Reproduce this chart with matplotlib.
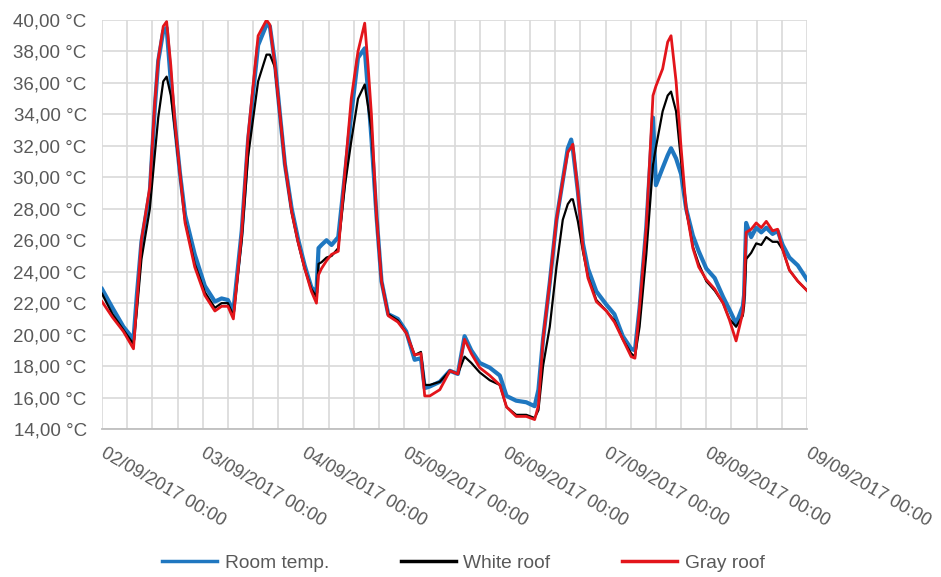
import numpy as np
import pandas as pd
import matplotlib
matplotlib.use("Agg")
import matplotlib.pyplot as plt
import matplotlib.dates as mdates
from matplotlib.ticker import FuncFormatter, MultipleLocator
from matplotlib.transforms import ScaledTranslation

plt.rcParams['font.family'] = ['Liberation Sans', 'DejaVu Sans']

# ---------- data (hours since 02/09/2017 00:00) ----------
hours = [0, 2.5, 5.1, 7.5, 8.3, 9.4, 11.4, 12.6, 13.4, 14.6, 15.4, 16.4, 17.4, 18.6,
         19.8, 22.1, 24.5, 26.9, 28.5, 30.0, 31.3, 33.3, 34.8, 37.2, 39.2, 40.0,
         41.2, 42.4, 43.6, 45.2, 46.7, 48.3, 49.9, 51.1, 51.6, 52.3, 53.5, 54.7,
         56.3, 57.9, 59.4, 61.0, 62.6, 63.4, 64.2, 65.4, 66.6, 68.2, 70.5, 72.5,
         74.5, 76.0, 76.9, 78.1, 80.5, 82.9, 84.8, 86.4, 88.0, 90.0, 92.4, 94.8,
         96.4, 98.7, 101.1, 103.1, 104.0, 105.1, 106.7, 108.3, 109.8, 111.0, 111.8,
         112.2, 113.4, 114.6, 115.8, 117.8, 120.2, 122.1, 124.1, 126.1, 127.0,
         128.1, 129.7, 131.3, 132.0, 133.6, 134.8, 135.6, 136.8, 138.0, 139.2,
         140.8, 142.2, 144.0, 146.0, 148.0, 149.5, 151.1, 152.7, 153.0, 153.5,
         154.7, 155.9, 157.1, 158.3, 159.8, 161.0, 162.2, 163.8, 165.8, 168.0]

room_temp = [22.9, 21.7, 20.5, 19.7, 22.5, 25.9, 29.1, 34.5, 37.4, 39.3, 39.5, 36.1, 33.3, 30.2,
             27.6, 25.1, 23.1, 22.1, 22.3, 22.2, 21.5, 26.6, 32.3, 38.4, 39.7, 39.6,
             37.3, 34.0, 30.8, 28.0, 26.1, 24.4, 23.0, 22.7, 25.5, 25.7, 26.0, 25.7,
             26.2, 30.2, 34.0, 37.6, 38.2, 35.4, 32.5, 27.6, 23.4, 21.3, 21.0, 20.2,
             18.4, 18.5, 16.6, 16.7, 17.0, 17.7, 17.5, 19.9, 19.0, 18.2, 17.9, 17.4,
             16.1, 15.8, 15.7, 15.45, 16.5, 19.7, 23.3, 27.3, 29.8, 31.85, 32.4,
             31.8, 29.1, 25.8, 24.2, 22.75, 21.9, 21.3, 19.9, 19.1, 19.0,
             21.7, 26.8, 33.8, 29.5, 30.6, 31.4, 31.85, 31.2, 30.2, 28.0,
             26.3, 25.3, 24.2, 23.6, 22.4, 21.6, 20.7, 21.8, 22.5, 27.1,
             26.2, 26.8, 26.5, 26.8, 26.4, 26.6, 25.7, 24.9, 24.4, 23.5]

white_roof = [22.6, 21.3, 20.3, 19.4, 21.5, 24.8, 28.0, 31.5, 33.8, 36.1, 36.4, 35.2, 33.0, 30.2,
              27.2, 24.5, 22.7, 21.7, 22.0, 22.0, 21.2, 26.0, 31.3, 36.1, 37.8, 37.8,
              37.0, 34.0, 30.8, 27.8, 25.9, 24.2, 22.9, 22.4, 24.5, 24.6, 24.9, 25.0,
              25.5, 29.5, 32.3, 35.0, 35.9, 34.5, 33.0, 27.6, 23.4, 21.3, 20.9, 20.1,
              18.7, 18.9, 16.8, 16.8, 17.0, 17.7, 17.5, 18.6, 18.2, 17.6, 17.1, 16.8,
              15.4, 14.9, 14.9, 14.7, 15.2, 18.0, 20.5, 24.3, 27.3, 28.3, 28.6,
              28.6, 27.2, 25.3, 23.7, 22.2, 21.5, 20.9, 19.7, 18.8, 18.6,
              20.5, 25.1, 30.8, 31.9, 34.2, 35.2, 35.45, 34.2, 31.0, 28.0,
              25.6, 24.5, 23.4, 22.8, 22.0, 21.0, 20.5, 21.2, 21.8, 24.8,
              25.2, 25.8, 25.7, 26.2, 25.9, 25.9, 25.4, 24.1, 23.4, 22.8]

gray_roof = [22.1, 21.1, 20.2, 19.1, 22.0, 26.0, 29.4, 34.8, 37.5, 39.6, 39.9, 37.1, 33.4, 30.2,
             27.1, 24.3, 22.5, 21.5, 21.8, 21.8, 21.0, 26.5, 32.6, 39.0, 40.0, 39.7,
             37.1, 34.0, 30.8, 27.8, 25.9, 24.2, 22.75, 22.0, 23.8, 24.2, 24.7, 25.1,
             25.3, 30.4, 35.0, 38.0, 39.8, 37.1, 34.0, 27.6, 23.4, 21.2, 20.8, 20.1,
             18.7, 18.8, 16.1, 16.1, 16.5, 17.7, 17.5, 19.7, 18.8, 17.9, 17.4, 16.8,
             15.4, 14.8, 14.8, 14.6, 15.5, 19.7, 23.3, 27.3, 29.8, 31.6, 31.9,
             32.1, 29.1, 25.5, 23.6, 22.1, 21.5, 20.8, 19.7, 18.6, 18.5,
             21.7, 26.8, 35.2, 35.8, 36.9, 38.6, 39.0, 36.1, 31.85, 28.0,
             25.5, 24.3, 23.5, 22.9, 22.0, 20.95, 19.6, 21.4, 22.5, 26.5,
             26.7, 27.1, 26.8, 27.2, 26.6, 26.7, 25.4, 24.1, 23.4, 22.8]

start = pd.Timestamp("2017-09-02 00:00")
end = pd.Timestamp("2017-09-09 00:00")
times = start + pd.to_timedelta(hours, unit="h")

# ---------- plot ----------
fig = plt.figure(figsize=(9.41, 5.77), dpi=100)
ax = fig.add_axes([0.1084, 0.2565, 0.7492, 0.7088])

txt = '#595959'
grid = '#d9d9d9'

ax.plot(times, room_temp, color='#1f77c0', lw=3.0, label='Room temp.', solid_joinstyle='round')
ax.plot(times, white_roof, color='black', lw=1.6, label='White roof', solid_joinstyle='round')
ax.plot(times, gray_roof, color='#e3151b', lw=2.0, label='Gray roof', solid_joinstyle='round')

ax.set_xlim(start, end)
ax.set_ylim(14, 40)

ax.xaxis.set_major_locator(mdates.DayLocator())
ax.xaxis.set_minor_locator(mdates.HourLocator(byhour=[6, 12, 18]))
ax.xaxis.set_major_formatter(mdates.DateFormatter('%d/%m/%Y %H:%M'))
ax.yaxis.set_major_locator(MultipleLocator(2))
ax.yaxis.set_major_formatter(FuncFormatter(lambda v, p: f"{v:.2f}".replace('.', ',') + " °C"))

ax.grid(True, which='both', color=grid, lw=1.2)
ax.set_axisbelow(True)
for s in ['top', 'right', 'left']:
    ax.spines[s].set_visible(False)
ax.spines['bottom'].set_color('#bfbfbf')
ax.spines['bottom'].set_linewidth(1.3)

ax.tick_params(axis='both', which='both', length=0, colors=txt)
ax.tick_params(axis='x', pad=11, labelsize=13)
ax.tick_params(axis='y', pad=11, labelsize=13.5)
shift = ScaledTranslation(4 / 100, 0, fig.dpi_scale_trans)
for lab in ax.get_xticklabels():
    lab.set_rotation(-30)
    lab.set_ha('left')
    lab.set_va('top')
    lab.set_rotation_mode('anchor')
    lab.set_transform(lab.get_transform() + shift)

leg = fig.legend(loc='center', bbox_to_anchor=(0.4926, 0.024), ncol=3, frameon=False,
                 fontsize=13.8, handlelength=2.86, handletextpad=0.4, columnspacing=3.75)
for t in leg.get_texts():
    t.set_color(txt)
for h in leg.legend_handles:
    h.set_linewidth(2.5)

fig.savefig('out.png', dpi=100)
